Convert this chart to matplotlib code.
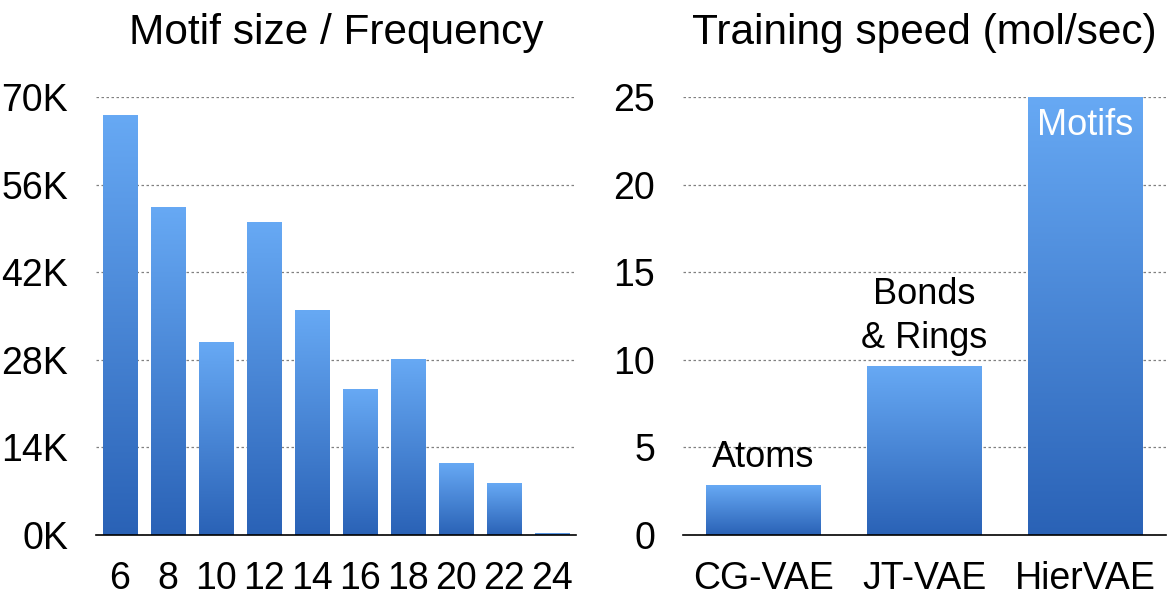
import numpy as np
import matplotlib.pyplot as plt
from matplotlib.colors import LinearSegmentedColormap

plt.rcParams['font.family'] = ['Liberation Sans', 'DejaVu Sans']

# ---- data ----
motif_sizes = ['6', '8', '10', '12', '14', '16', '18', '20', '22', '24']
motif_freq = [67.0, 52.3, 30.7, 50.0, 35.8, 23.2, 28.1, 11.5, 8.3, 0.3]   # in K
freq_ticks = [0, 14, 28, 42, 56, 70]

models = ['CG-VAE', 'JT-VAE', 'HierVAE']
speed = [2.8, 9.6, 25.0]
speed_ticks = [0, 5, 10, 15, 20, 25]
bar_notes = ['Atoms', 'Bonds\n& Rings', 'Motifs']

# light at top, darker at bottom
grad = LinearSegmentedColormap.from_list('bluegrad', ['#2a62b6', '#67a9f4'])
grad_img = np.linspace(0, 1, 256).reshape(-1, 1)

FS = 27
width = 0.71


def gradient_bars(ax, values):
    for i, v in enumerate(values):
        ax.imshow(grad_img, cmap=grad, origin='lower', aspect='auto',
                  extent=[i - width / 2, i + width / 2, 0, v], zorder=2)


def style_axis(ax, ymax):
    ax.set_ylim(0, ymax)
    for s in ['top', 'right', 'left']:
        ax.spines[s].set_visible(False)
    ax.spines['bottom'].set_color('black')
    ax.spines['bottom'].set_linewidth(1.2)
    ax.spines['bottom'].set_zorder(3)
    ax.tick_params(length=0, labelsize=FS)
    ax.tick_params(axis='x', pad=19)
    ax.tick_params(axis='y', pad=20)
    ax.yaxis.grid(True, linestyle=(0, (2, 2)), color='#808080', linewidth=0.9)
    ax.set_axisbelow(True)


fig = plt.figure(figsize=(11.7, 5.98), dpi=100)
ax1 = fig.add_axes([96 / 1170, 63 / 598, 480 / 1170, 438 / 598])
ax2 = fig.add_axes([683 / 1170, 63 / 598, 483 / 1170, 438 / 598])

# ---- left: motif size / frequency ----
gradient_bars(ax1, motif_freq)
ax1.set_xticks(range(len(motif_sizes)))
ax1.set_xticklabels(motif_sizes)
ax1.set_xlim(-0.5, len(motif_sizes) - 0.5)
ax1.set_yticks(freq_ticks)
ax1.set_yticklabels([f'{t}K' for t in freq_ticks])
style_axis(ax1, 70)
ax1.set_title('Motif size / Frequency', fontsize=30.5, pad=38)

# ---- right: training speed ----
gradient_bars(ax2, speed)
ax2.set_xticks(range(len(models)))
ax2.set_xticklabels(models)
ax2.set_xlim(-0.5, len(models) - 0.5)
ax2.set_yticks(speed_ticks)
style_axis(ax2, 25)
ax2.set_title('Training speed (mol/sec)', fontsize=30.5, pad=38)

ax2.text(0, speed[0] + 0.6, bar_notes[0], ha='center', va='bottom', fontsize=FS - 1)
ax2.text(1, speed[1] + 0.6, bar_notes[1], ha='center', va='bottom', fontsize=FS - 1,
         linespacing=1.35)
ax2.text(2, speed[2] - 0.6, bar_notes[2], ha='center', va='top', fontsize=FS - 1,
         color='white', zorder=4)

fig.savefig('out.png', dpi=100)
